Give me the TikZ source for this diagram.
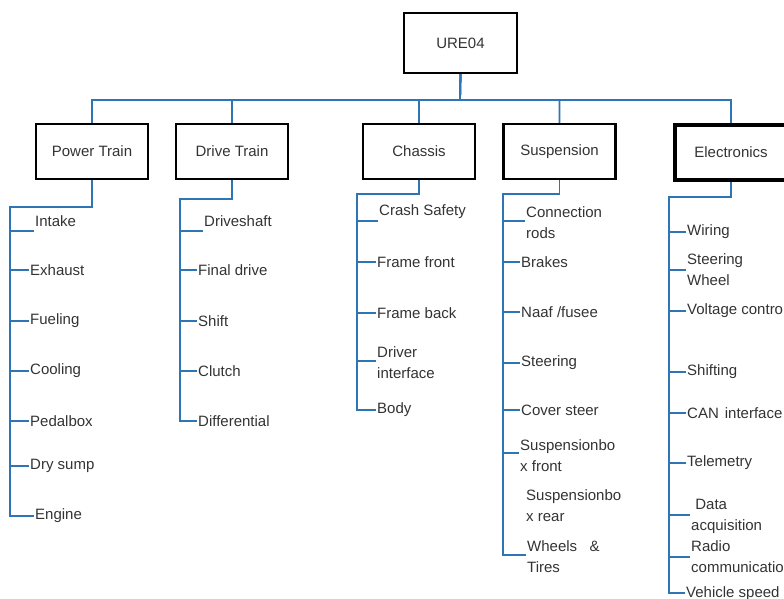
\documentclass[tikz,border=0pt]{standalone}
\usepackage{fontspec}
\setmainfont{Liberation Sans}
\usepackage{tikz}
\usetikzlibrary{positioning}
\definecolor{linkblue}{RGB}{46,117,182}

\begin{document}
\begin{tikzpicture}[x=1pt,y=-1pt,
  box/.style={draw, line width=2.4pt, minimum width=112pt, minimum height=55pt, inner sep=0pt,
    font=\fontsize{15}{17}\selectfont, text=black!80},
  item/.style={anchor=west, align=left, inner sep=0pt, font=\fontsize{15}{21}\selectfont, text=black!80},
  link/.style={draw=linkblue, line width=1.8pt}]
 \clip (0,0) rectangle (784,599);
 % top level
 \node[box, minimum width=113pt, minimum height=60pt] (ure) at (460.5,43) {URE04};
 \coordinate (bus) at (460,100);
 \node[box] (pt) at (92,151.5) {Power Train};
 \node[box] (dt) at (232,151.5) {Drive Train};
 \node[box] (ch) at (419,151.5) {Chassis};
 \node[box] (su) at (559.5,151.5) {Suspension};
 \node[box, line width=4pt] (el) at (731,152.5) {Electronics};
 \foreach \b in {pt,dt,ch,su,el}
   \draw[link] (ure.south) -- (bus) -| (\b.north);

 % Power Train
 \coordinate (pt-top) at (10,207);
 \foreach \y/\k/\x/\t [count=\i] in {221/231/35/Intake, 270/270/30/Exhaust, 321/321/30/Fueling,
     371/371/30/Cooling, 421/421/30/Pedalbox, 466/466/30/Dry sump, 516/516/35/Engine} {
   \node[item] (pt-\i) at (\x,\y) {\t};
   \coordinate (pt-\i-tick) at (\x-1,\k);
   \draw[link] (pt-top |- pt-\i-tick) -- (pt-\i-tick);
 }
 \draw[link] (pt.south) |- (pt-top) |- (pt-7-tick);

 % Drive Train
 \coordinate (dt-top) at (180,199);
 \foreach \y/\k/\x/\t [count=\i] in {221/231/204/Driveshaft, 270/270/198/Final drive,
     321/321/198/Shift, 371/371/198/Clutch, 421/421/198/Differential} {
   \node[item] (dt-\i) at (\x,\y) {\t};
   \coordinate (dt-\i-tick) at (\x-1,\k);
   \draw[link] (dt-top |- dt-\i-tick) -- (dt-\i-tick);
 }
 \draw[link] (dt.south) |- (dt-top) |- (dt-5-tick);

 % Chassis
 \coordinate (ch-top) at (357,194);
 \foreach \y/\k/\x/\t [count=\i] in {212/221/379/Crash Safety, 262/262/377/Frame front,
     313/313/377/Frame back, 363/361/377/{Driver\\interface}, 410/410/377/Body} {
   \node[item] (ch-\i) at (\x,\y) {\t};
   \coordinate (ch-\i-tick) at (\x-1,\k);
   \draw[link] (ch-top |- ch-\i-tick) -- (ch-\i-tick);
 }
 \draw[link] (ch.south) |- (ch-top) |- (ch-5-tick);

 % Suspension
 \coordinate (su-top) at (503,194);
 \foreach \y/\k/\x/\t [count=\i] in {223/221/526/{Connection\\rods}, 262/262/521/Brakes,
     312/312/521/{Naaf /fusee}, 363/363/521/Steering, 410/410/521/Cover steer,
     456/453/520/{Suspensionbo\\x front}, 557/555/527/{Wheels\ \ \ \&\\Tires}} {
   \node[item] (su-\i) at (\x,\y) {\t};
   \coordinate (su-\i-tick) at (\x-1,\k);
   \draw[link] (su-top |- su-\i-tick) -- (su-\i-tick);
 }
 \node[item] (su-rear) at (526,506) {Suspensionbo\\x rear};
 \draw[link] (su.south) |- (su-top) |- (su-7-tick);

 % Electronics
 \coordinate (el-top) at (669,197);
 \foreach \y/\k/\x/\t [count=\i] in {232/232/687/Wiring, 270/270/687/{Steering\\Wheel},
     311/311/687/Voltage control, 372/372/687/Shifting, 413/413/687/{CAN\hspace{6pt}interface},
     463/463/687/Telemetry, 516/515/691/{\ Data\\acquisition}, 557/557/691/{Radio\\communication},
     594/593/686/Vehicle speed} {
   \node[item] (el-\i) at (\x,\y) {\t};
   \coordinate (el-\i-tick) at (\x-1,\k);
   \draw[link] (el-top |- el-\i-tick) -- (el-\i-tick);
 }
 \draw[link] (el.south) |- (el-top) |- (el-9-tick);
\end{tikzpicture}
\end{document}
